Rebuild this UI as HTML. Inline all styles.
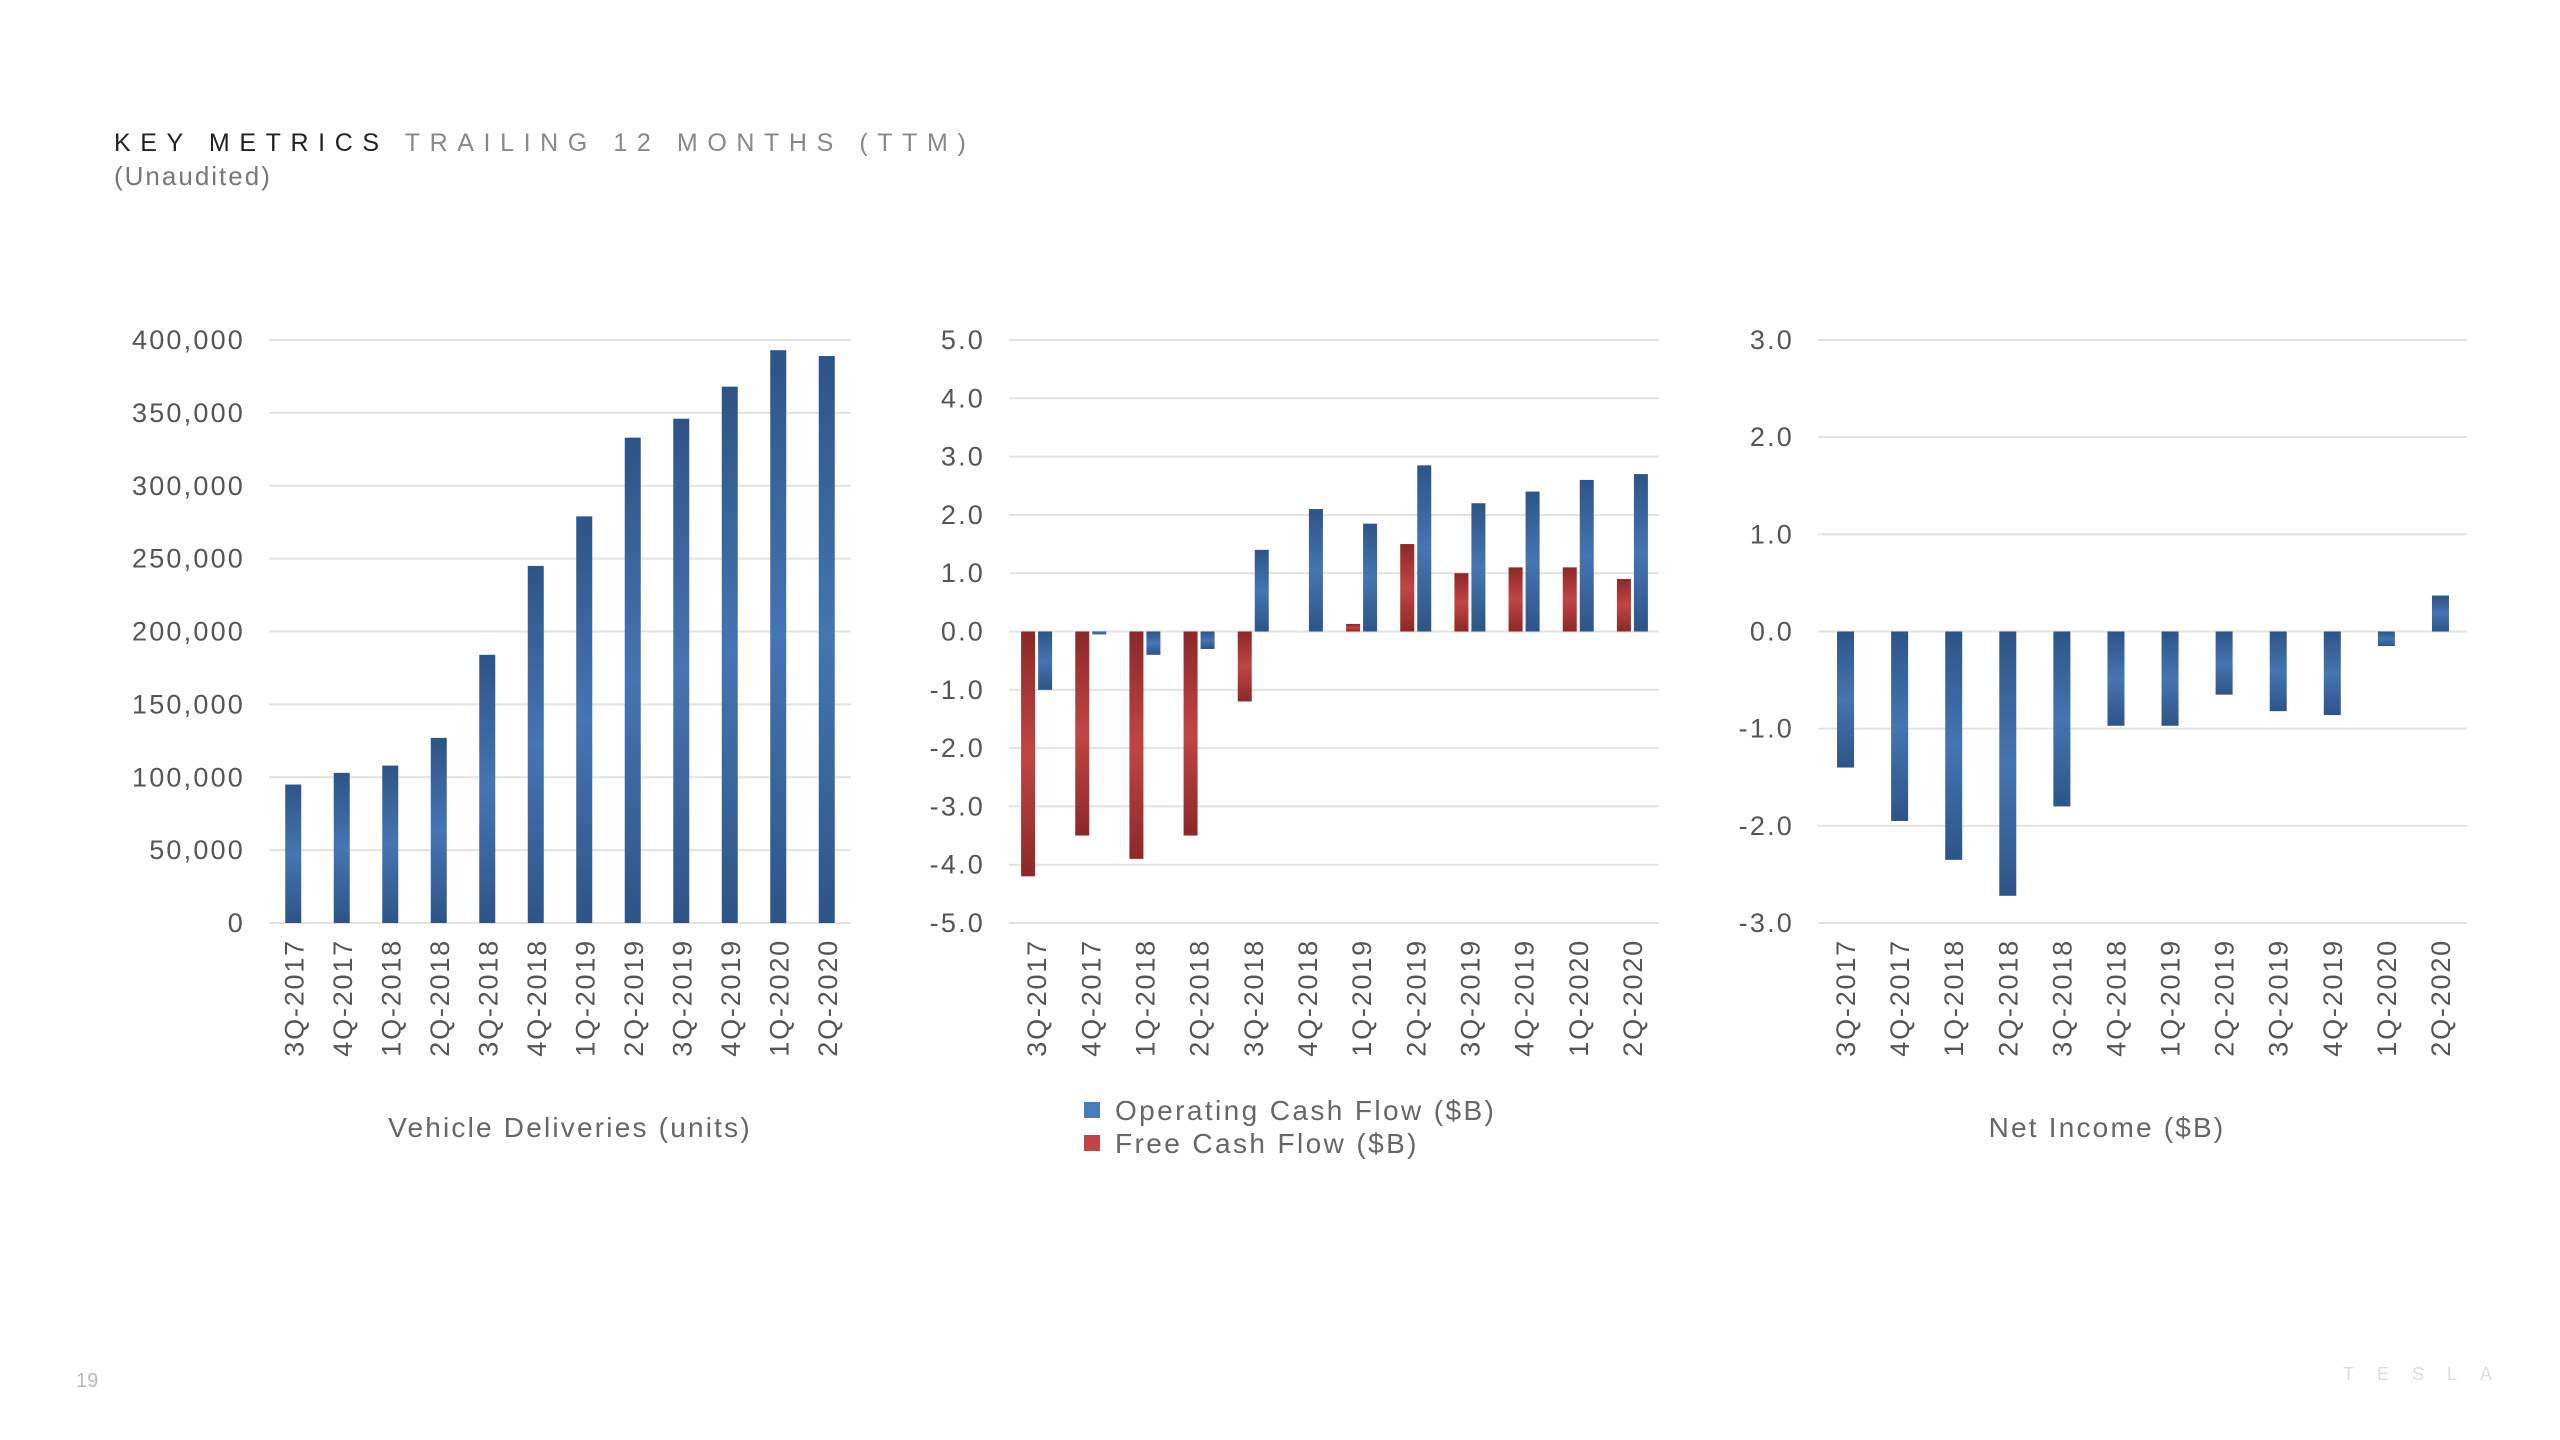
<!DOCTYPE html>
<html><head><meta charset="utf-8"><style>
html,body{margin:0;padding:0;background:#fff;}
body{width:2560px;height:1440px;position:relative;overflow:hidden;font-family:"Liberation Sans",sans-serif;}
.t{position:absolute;white-space:nowrap;}
</style></head><body>
<div class="t" style="left:114px;top:129px;font-size:25px;letter-spacing:9.6px;color:#222;">KEY METRICS <span style="color:#888;">TRAILING 12 MONTHS (TTM)</span></div>
<div class="t" style="left:114px;top:161px;font-size:26px;letter-spacing:2px;color:#777;">(Unaudited)</div>
<div class="t" style="left:76px;top:1370px;font-size:20px;color:#bbb;">19</div>
<div class="t" style="left:2343px;top:1364px;font-size:18px;letter-spacing:23px;color:#ddd;">TESLA</div>
<svg id="svg" width="2560" height="1440" style="position:absolute;left:0;top:0">
<defs>
<linearGradient id="gb" x1="0" y1="0" x2="0" y2="1"><stop offset="0" stop-color="#2d5487"/><stop offset="0.5" stop-color="#4575b2"/><stop offset="1" stop-color="#2d5487"/></linearGradient>
<linearGradient id="gr" x1="0" y1="0" x2="0" y2="1"><stop offset="0" stop-color="#8c2828"/><stop offset="0.5" stop-color="#c24545"/><stop offset="1" stop-color="#8c2828"/></linearGradient>
</defs>
</svg>
<script>
const categories=["3Q-2017","4Q-2017","1Q-2018","2Q-2018","3Q-2018","4Q-2018","1Q-2019","2Q-2019","3Q-2019","4Q-2019","1Q-2020","2Q-2020"];
const deliveries=[95000,103000,108000,127000,184000,245000,279000,333000,346000,368000,393000,389000];
const deliveryTicks=["0","50,000","100,000","150,000","200,000","250,000","300,000","350,000","400,000"];
const operatingCF=[-1.0,-0.05,-0.4,-0.3,1.4,2.1,1.85,2.85,2.2,2.4,2.6,2.7];
const freeCF=[-4.2,-3.5,-3.9,-3.5,-1.2,0,0.13,1.5,1.0,1.1,1.1,0.9];
const cashTicks=["-5.0","-4.0","-3.0","-2.0","-1.0","0.0","1.0","2.0","3.0","4.0","5.0"];
const netIncome=[-1.4,-1.95,-2.35,-2.72,-1.8,-0.97,-0.97,-0.65,-0.82,-0.86,-0.15,0.37];
const incomeTicks=["-3.0","-2.0","-1.0","0.0","1.0","2.0","3.0"];

const svg=document.getElementById('svg');
const NS='http://www.w3.org/2000/svg';
function mk(tag,attrs){const e=document.createElementNS(NS,tag);for(const k in attrs)e.setAttribute(k,attrs[k]);svg.appendChild(e);return e;}
const TOP=340,BOT=923;
function chart(id,left,right,min,max,ticks,title,titleX){
  const y=v=>BOT-(v-min)/(max-min)*(BOT-TOP);
  const band=(right-left)/categories.length;
  const cx=i=>left+band*(i+0.5);
  ticks.forEach((t,i)=>{
    const v=min+(max-min)*i/(ticks.length-1);
    const g=mk('line',{x1:left,x2:right,y1:y(v),y2:y(v),stroke:'#e2e2e2','stroke-width':2});
    
    
    const tx=mk('text',{x:left-24,y:y(v)+9,'text-anchor':'end','font-size':27,'letter-spacing':2.2,fill:'#555','font-family':'Liberation Sans, sans-serif'});
    tx.textContent=t;
    
    
  });
  categories.forEach((c,i)=>{
    const x=cx(i)+10;
    const tx=mk('text',{x:x,y:939,'text-anchor':'end','font-size':27,'letter-spacing':1.8,fill:'#555',transform:`rotate(-90 ${x} 939)`,'font-family':'Liberation Sans, sans-serif'});
    tx.textContent=c;
    
    
  });
  if(title){
    const tt=mk('text',{x:titleX,y:1137,'text-anchor':'middle','font-size':28,'letter-spacing':2.2,fill:'#666','font-family':'Liberation Sans, sans-serif'});
    tt.textContent=title;
    
    
  }
  return {y,cx,band};
}
function bar(x,w,y0,y1,fill,name){
  const r=mk('rect',{x:x,y:Math.min(y0,y1),width:w,height:Math.abs(y1-y0),fill:fill});
  
  
}
const c1=chart('deliveries',269,851,0,400000,deliveryTicks,'Vehicle Deliveries (units)',570);
deliveries.forEach((v,i)=>bar(c1.cx(i)-8,16,c1.y(0),c1.y(v),'url(#gb)','delivery-bar'));
const c2=chart('cash-flow',1009,1659,-5,5,cashTicks,null,0);
freeCF.forEach((v,i)=>{if(v!==0)bar(c2.cx(i)-15,14,c2.y(0),c2.y(v),'url(#gr)','free-cash-flow-bar');});
operatingCF.forEach((v,i)=>bar(c2.cx(i)+2,14,c2.y(0),c2.y(v),'url(#gb)','operating-cash-flow-bar'));
const c3=chart('net-income',1818,2467,-3,3,incomeTicks,'Net Income ($B)',2107);
netIncome.forEach((v,i)=>bar(c3.cx(i)-8,17,c3.y(0),c3.y(v),'url(#gb)','net-income-bar'));
[["Operating Cash Flow ($B)","#4a7bbd",1122],["Free Cash Flow ($B)","#c24545",1155]].forEach(l=>{
  const s=mk('rect',{x:1084,y:l[2]-20,width:16,height:16,fill:l[1]});
  
  
  const t=mk('text',{x:1115,y:l[2]-2,'font-size':28,'letter-spacing':2.4,fill:'#666','font-family':'Liberation Sans, sans-serif'});
  t.textContent=l[0];
  
  
});
</script>
</body></html>
